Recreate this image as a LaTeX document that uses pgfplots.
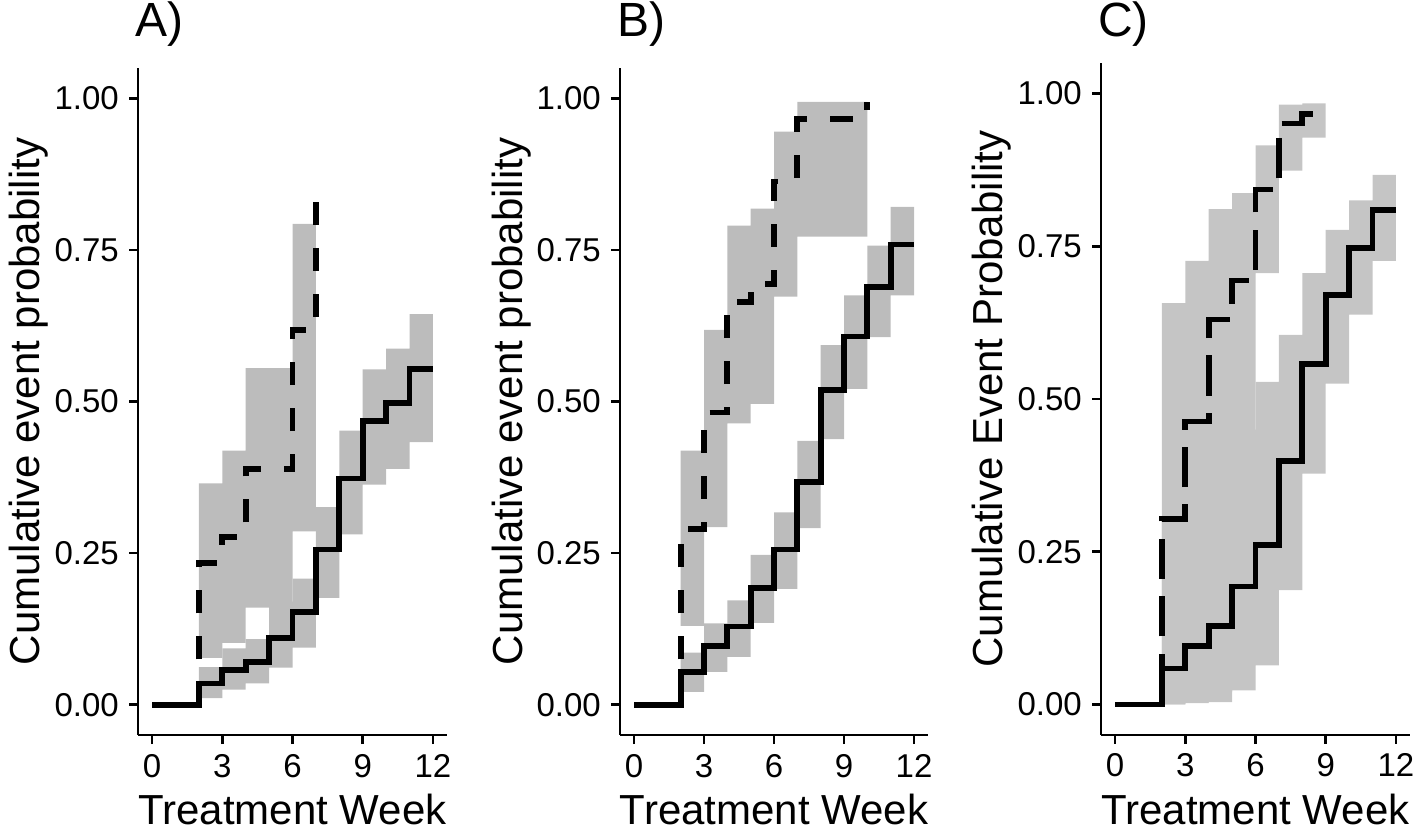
\documentclass[border=0pt]{standalone}
\usepackage{fontspec}
\setmainfont{Liberation Sans}
\usepackage{pgfplots}
\usepackage{pgfplotstable}
\pgfplotsset{compat=1.18}
\usepgfplotslibrary{fillbetween}

\definecolor{bandAB}{RGB}{188,188,188}
\definecolor{bandC}{RGB}{197,197,197}

% ---------------- Panel A ----------------
\pgfplotstableread{
x y
0 0
2 0.035
3 0.057
4 0.070
5 0.110
6 0.153
7 0.256
8 0.373
9 0.468
10 0.498
11 0.553
12 0.553
}\Asolid
\pgfplotstableread{
x lo hi
2 0.011 0.062
3 0.025 0.093
4 0.035 0.108
5 0.061 0.170
6 0.094 0.208
7 0.176 0.326
8 0.281 0.452
9 0.363 0.553
10 0.389 0.587
11 0.433 0.644
12 0.433 0.644
}\AsolidCI
\pgfplotstableread{
x y
0 0
2 0.234
3 0.277
4 0.389
5 0.389
6 0.618
7 0.834
}\Adash
\pgfplotstableread{
x lo hi
2 0.077 0.365
3 0.102 0.419
4 0.160 0.555
5 0.160 0.555
6 0.286 0.793
7 0.286 0.793
}\AdashCI

% ---------------- Panel B ----------------
\pgfplotstableread{
x y
0 0
2 0.054
3 0.097
4 0.129
5 0.193
6 0.256
7 0.367
8 0.519
9 0.607
10 0.689
11 0.759
12 0.759
}\Bsolid
\pgfplotstableread{
x lo hi
2 0.021 0.086
3 0.054 0.134
4 0.079 0.172
5 0.135 0.247
6 0.191 0.317
7 0.291 0.435
8 0.438 0.593
9 0.521 0.675
10 0.606 0.757
11 0.675 0.821
12 0.675 0.821
}\BsolidCI
\pgfplotstableread{
x y
0 0
2 0.290
3 0.482
4 0.664
5 0.694
6 0.863
7 0.966
10 0.994
}\Bdash
\pgfplotstableread{
x lo hi
2 0.130 0.419
3 0.293 0.618
4 0.464 0.790
5 0.496 0.818
6 0.673 0.945
7 0.772 0.994
10 0.772 0.994
}\BdashCI

% ---------------- Panel C ----------------
\pgfplotstableread{
x y
0 0
2 0.059
3 0.096
4 0.128
5 0.193
6 0.261
7 0.399
8 0.557
9 0.670
10 0.747
11 0.809
12 0.809
}\Csolid
\pgfplotstableread{
x lo hi
2 0.000 0.300
3 0.002 0.330
4 0.004 0.370
5 0.023 0.450
6 0.064 0.528
7 0.187 0.605
8 0.378 0.706
9 0.525 0.777
10 0.638 0.825
11 0.726 0.867
12 0.726 0.867
}\CsolidCI
\pgfplotstableread{
x y
0 0
2 0.303
3 0.463
4 0.630
5 0.694
6 0.843
7 0.951
8 0.966
9 0.966
}\Cdash
\pgfplotstableread{
x lo hi
2 0.000 0.657
3 0.003 0.726
4 0.020 0.811
5 0.100 0.837
6 0.706 0.915
7 0.874 0.982
8 0.928 0.984
9 0.928 0.984
}\CdashCI

\pgfplotsset{
  panel/.style={
    scale only axis,
    width=309bp, height=667bp,
    anchor=south west,
    xmin=-0.6, xmax=12.6, ymin=-0.05, ymax=1.05,
    axis lines=left,
    axis line style={line width=2.6bp, black, -},
    xtick={0,3,6,9,12},
    ytick={0,0.25,0.5,0.75,1},
    tick align=outside,
    major tick length=9bp,
    tick style={line width=2.6bp, black},
    /pgf/number format/assume math mode=true,
    yticklabel style={/pgf/number format/fixed, /pgf/number format/fixed zerofill, /pgf/number format/precision=2,
      anchor=east, inner sep=0pt, xshift=-10bp},
    xticklabel style={anchor=base, inner sep=0pt, yshift=-33bp},
    tick label style={font=\fontsize{33bp}{33bp}\selectfont},
    title style={at={(axis description cs:0,1)}, anchor=base west, inner sep=0pt, xshift=-3bp, yshift=26bp,
      text height=35bp, text depth=0bp, font=\fontsize{48bp}{48bp}\selectfont},
    xlabel style={at={(axis description cs:0.5,0)}, anchor=base, inner sep=0pt, yshift=-89bp,
      text depth=0bp, font=\fontsize{42bp}{42bp}\selectfont},
    ylabel style={at={(axis description cs:-0.3172,0.5)}, anchor=base, inner sep=0pt,
      font=\fontsize{42bp}{42bp}\selectfont},
    xlabel={Treatment Week},
  },
  band/.style={draw=none, const plot, forget plot},
  sline/.style={const plot, black, line width=5.75bp, line cap=butt, line join=miter},
}

\begin{document}
\begin{tikzpicture}

% Panel A
\begin{axis}[panel, at={(138bp,95bp)}, title={A)}, ylabel={Cumulative event probability}]
\addplot[band, name path=a1h] table[x=x,y=hi]{\AsolidCI};
\addplot[band, name path=a1l] table[x=x,y=lo]{\AsolidCI};
\addplot[fill=bandAB, draw=none] fill between[of=a1h and a1l];
\addplot[band, name path=a2h] table[x=x,y=hi]{\AdashCI};
\addplot[band, name path=a2l] table[x=x,y=lo]{\AdashCI};
\addplot[fill=bandAB, draw=none] fill between[of=a2h and a2l];
\addplot[sline, dash pattern=on 23bp off 23bp] table[x=x,y=y]{\Adash};
\addplot[sline] table[x=x,y=y]{\Asolid};
\end{axis}

% Panel B
\begin{axis}[panel, width=308bp, at={(620bp,95bp)}, title={B)}, ylabel={Cumulative event probability}]
\addplot[band, name path=b1h] table[x=x,y=hi]{\BsolidCI};
\addplot[band, name path=b1l] table[x=x,y=lo]{\BsolidCI};
\addplot[fill=bandAB, draw=none] fill between[of=b1h and b1l];
\addplot[band, name path=b2h] table[x=x,y=hi]{\BdashCI};
\addplot[band, name path=b2l] table[x=x,y=lo]{\BdashCI};
\addplot[fill=bandAB, draw=none] fill between[of=b2h and b2l];
\addplot[sline, dash pattern=on 23bp off 23bp] table[x=x,y=y]{\Bdash};
\addplot[sline] table[x=x,y=y]{\Bsolid};
\end{axis}

% Panel C
\begin{axis}[panel, height=672bp, at={(1101bp,95bp)}, title={C)}, title style={yshift=-5bp},
  ylabel={Cumulative Event Probability}]
\addplot[band, name path=c1h] table[x=x,y=hi]{\CsolidCI};
\addplot[band, name path=c1l] table[x=x,y=lo]{\CsolidCI};
\addplot[fill=bandC, draw=none] fill between[of=c1h and c1l];
\addplot[band, name path=c2h] table[x=x,y=hi]{\CdashCI};
\addplot[band, name path=c2l] table[x=x,y=lo]{\CdashCI};
\addplot[fill=bandC, draw=none] fill between[of=c2h and c2l];
\addplot[sline, dash pattern=on 40.25bp off 17.25bp] table[x=x,y=y]{\Cdash};
\addplot[sline] table[x=x,y=y]{\Csolid};
\end{axis}

\pgfresetboundingbox
\path[use as bounding box] (0,0) rectangle (1416bp,830bp);
\end{tikzpicture}
\end{document}
